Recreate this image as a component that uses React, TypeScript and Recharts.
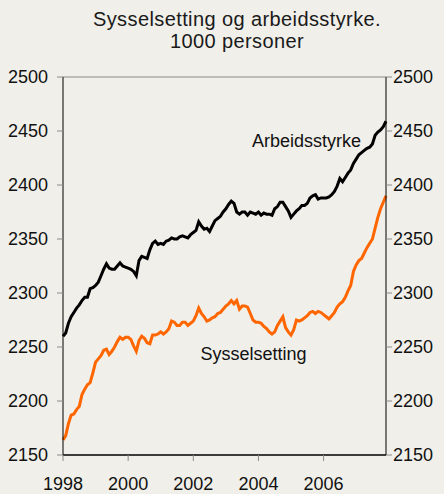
import { LineChart, Line, XAxis, YAxis, ReferenceLine, ReferenceDot } from 'recharts'

// Månedstall jan 1998 - des 2007, 1000 personer (lest av figuren)
const arbeidsstyrke = [
  2260, 2263, 2272, 2278, 2282, 2286, 2289, 2293, 2296, 2296, 2304, 2305,
  2307, 2310, 2316, 2322, 2327, 2323, 2322, 2322, 2325, 2328, 2325, 2324,
  2323, 2322, 2320, 2316, 2330, 2334, 2333, 2332, 2340, 2346, 2348, 2345,
  2346, 2345, 2348, 2349, 2351, 2350, 2350, 2352, 2353, 2352, 2351, 2354,
  2356, 2358, 2366, 2362, 2359, 2360, 2357, 2362, 2367, 2369, 2371, 2375,
  2378, 2382, 2385, 2383, 2375, 2373, 2375, 2375, 2372, 2375, 2374, 2373,
  2375, 2372, 2374, 2373, 2373, 2372, 2378, 2380, 2384, 2384, 2380, 2376,
  2370, 2373, 2376, 2378, 2381, 2381, 2383, 2388, 2390, 2391, 2387, 2388,
  2388, 2388, 2389, 2391, 2394, 2399, 2406, 2403, 2407, 2411, 2414, 2420,
  2424, 2428, 2430, 2432, 2434, 2435, 2438, 2446, 2449, 2451, 2454, 2459,
]

const sysselsetting = [
  2164, 2168, 2179, 2187, 2188, 2192, 2195, 2206, 2211, 2215, 2217, 2226,
  2236, 2239, 2242, 2247, 2248, 2243, 2246, 2250, 2255, 2259, 2257, 2259,
  2259, 2257, 2251, 2246, 2256, 2260, 2258, 2254, 2253, 2261, 2261, 2262,
  2264, 2262, 2264, 2267, 2274, 2273, 2270, 2270, 2273, 2273, 2270, 2272,
  2274, 2279, 2286, 2281, 2278, 2274, 2275, 2277, 2278, 2281, 2282, 2285,
  2288, 2290, 2293, 2290, 2293, 2285, 2288, 2288, 2287, 2281, 2275, 2273,
  2273, 2272, 2269, 2267, 2264, 2262, 2264, 2270, 2274, 2278, 2268, 2264,
  2261, 2266, 2275, 2274, 2275, 2277, 2279, 2282, 2283, 2281, 2283, 2282,
  2280, 2278, 2276, 2279, 2282, 2287, 2290, 2292, 2296, 2302, 2307, 2320,
  2326, 2330, 2332, 2337, 2342, 2346, 2350, 2360, 2370, 2378, 2384, 2390,
]

const yearTicks = [0, 24, 48, 72, 96] // månedsindeks
const yearLabels = ['1998', '2000', '2002', '2004', '2006']
const yTicks = [2150, 2200, 2250, 2300, 2350, 2400, 2450, 2500]

const FONT = '"Liberation Sans", Arial, sans-serif'
const BG = '#f0efe9'
const ORANGE = '#ff6600'
const TICK_GREY = '#8a8a8a'

const data = arbeidsstyrke.map((v, i) => ({
  i,
  arbeidsstyrke: v,
  sysselsetting: sysselsetting[i],
}))

const tickStyle = { fontSize: 18, fill: '#111', fontFamily: FONT }

export default function App() {
  return (
    <div
      style={{
        position: 'absolute',
        left: 0,
        top: 0,
        width: 444,
        height: 494,
        background: BG,
        fontFamily: FONT,
      }}
    >
      <div
        style={{
          position: 'absolute',
          left: 0,
          width: 474,
          top: 8,
          textAlign: 'center',
          fontSize: 20,
          letterSpacing: 0.4,
          lineHeight: '22px',
          color: '#1a1a1a',
        }}
      >
        Sysselsetting og arbeidsstyrke.
        <br />
        1000 personer
      </div>
      <LineChart
        width={444}
        height={494}
        data={data}
        margin={{ top: 77, right: 0, bottom: 0, left: 0 }}
        style={{ position: 'absolute', left: 0, top: 0 }}
      >
        <XAxis
          dataKey="i"
          type="number"
          domain={[0, 119]}
          ticks={yearTicks}
          tickFormatter={(v: number) => yearLabels[yearTicks.indexOf(v)]}
          height={39}
          tick={tickStyle}
          tickMargin={16}
          axisLine={{ stroke: '#000', strokeWidth: 1.5 }}
          tickLine={{ stroke: TICK_GREY }}
        />
        <YAxis
          yAxisId="left"
          domain={[2150, 2500]}
          ticks={yTicks}
          width={63}
          tick={tickStyle}
          tickMargin={9}
          axisLine={{ stroke: '#000' }}
          tickLine={{ stroke: TICK_GREY }}
        />
        <YAxis
          yAxisId="right"
          orientation="right"
          domain={[2150, 2500]}
          ticks={yTicks}
          width={58}
          tick={{ ...tickStyle, textAnchor: 'start' }}
          tickMargin={1}
          axisLine={{ stroke: '#000' }}
          tickLine={{ stroke: TICK_GREY }}
        />
        <ReferenceLine yAxisId="left" y={2500} stroke={TICK_GREY} />
        <Line
          yAxisId="left"
          dataKey="arbeidsstyrke"
          stroke="#000"
          strokeWidth={3}
          dot={false}
          isAnimationActive={false}
        />
        <Line
          yAxisId="right"
          dataKey="sysselsetting"
          stroke={ORANGE}
          strokeWidth={3}
          dot={false}
          isAnimationActive={false}
        />
        <ReferenceDot
          yAxisId="left"
          x={89.7}
          y={2440.7}
          r={0}
          label={{ value: 'Arbeidsstyrke', position: 'center', ...tickStyle }}
        />
        <ReferenceDot
          yAxisId="left"
          x={70.2}
          y={2243.5}
          r={0}
          label={{ value: 'Sysselsetting', position: 'center', ...tickStyle }}
        />
      </LineChart>
    </div>
  )
}
